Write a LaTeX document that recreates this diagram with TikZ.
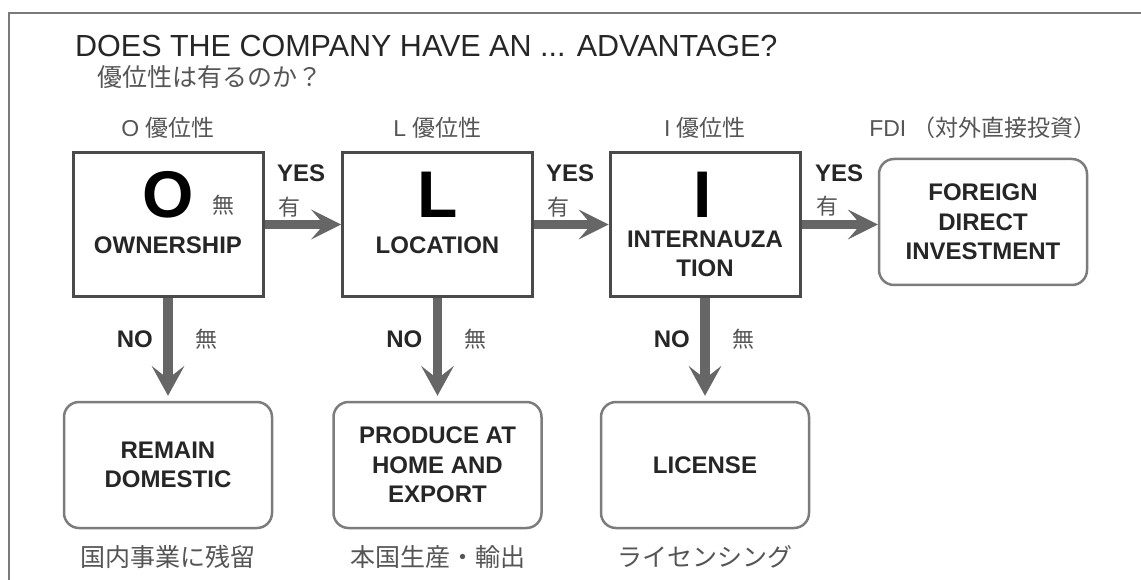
\documentclass[tikz,border=0pt]{standalone}
\usepackage{fontspec}
\setmainfont{Liberation Sans}
\newfontfamily\jp{Noto Sans CJK JP}
\usetikzlibrary{arrows.meta}
\definecolor{framegray}{HTML}{7A7A7A}
\definecolor{boxline}{HTML}{4A4A4A}
\definecolor{rline}{HTML}{7C7C7C}
\definecolor{arrowgray}{HTML}{666666}
\definecolor{textdark}{HTML}{262626}
\definecolor{jpgray}{HTML}{555555}
\begin{document}
\begin{tikzpicture}[x=1pt,y=-1pt,
  framestyle/.style={draw=framegray, line width=2pt},
  titletxt/.style={inner sep=0pt, text=textdark, font=\fontsize{30.5}{35}\selectfont},
  jptxt/.style={inner sep=0pt, text=jpgray, font=\jp\fontsize{25}{30}\selectfont},
  hdr/.style={inner sep=0pt, text=jpgray, font=\fontsize{23}{28}\selectfont},
  sqbox/.style={draw=boxline, line width=3pt, fill=white, minimum width=190pt, minimum height=143pt, inner sep=0pt},
  rbox/.style={draw=rline, line width=2.5pt, fill=white, rounded corners=15pt, minimum width=208pt, minimum height=126pt, inner sep=0pt, align=center, text=textdark, font=\bfseries\fontsize{24}{29.5}\selectfont},
  bigletter/.style={inner sep=0pt, text=black, font=\bfseries\fontsize{66}{76}\selectfont},
  boxtxt/.style={inner sep=0pt, align=center, text=textdark, font=\bfseries\fontsize{24}{29}\selectfont},
  yn/.style={inner sep=0pt, text=textdark, font=\bfseries\fontsize{24}{28}\selectfont},
  jpsmall/.style={inner sep=0pt, text=jpgray, font=\jp\fontsize{22}{26}\selectfont},
  harrow/.style={draw=arrowgray, line width=8.5pt, -{Stealth[length=30pt,width=30pt,inset=13pt,line width=0pt]}},
  varrow/.style={draw=arrowgray, line width=9.5pt, shorten >=5pt, -{Stealth[length=30pt,width=33pt,inset=13pt,line width=0pt]}}
]
\useasboundingbox (0,0) rectangle (1141,580);
% outer frame (top and left)
\coordinate (fr) at (1141,13);
\coordinate (fc) at (9,13);
\coordinate (fb) at (9,580);
\draw[framestyle] (fr) -- (fc) -- (fb);

% titles
\node[titletxt, anchor=base west] (title) at (75,57) {DOES THE COMPANY HAVE AN ... ADVANTAGE?};
\node[jptxt, anchor=west] (subtitle) at (97,77) {優位性は有るのか？};

% column headers
\node[hdr] (hO) at (168,128) {O {\jp 優位性}};
\node[hdr] (hL) at (437.5,128) {L {\jp 優位性}};
\node[hdr] (hI) at (705,128) {I {\jp 優位性}};
\node[hdr] (hF) at (983,128) {FDI {\jp （対外直接投資）}};

% main boxes
\node[sqbox] (O) at (168,224.5) {};
\node[sqbox] (L) at (437.5,224.5) {};
\node[sqbox] (I) at (705,224.5) {};
\node[rbox] (F) at (983,222) {FOREIGN\\DIRECT\\INVESTMENT};

% box contents
\node[bigletter] (Ol) at (168,195) {O};
\node[jpsmall] (Onashi) at (223,205) {無};
\node[boxtxt] (Ot) at (168,245) {OWNERSHIP};
\node[bigletter] (Ll) at (438,195) {L};
\node[boxtxt] (Lt) at (437.5,245) {LOCATION};
\node[bigletter] (Il) at (703,195) {I};
\node[boxtxt] (It) at (705,253.5) {INTERNAUZA\\TION};

% outcome boxes
\node[rbox] (RD) at (168,465) {REMAIN\\DOMESTIC};
\node[rbox] (PH) at (437.5,465) {PRODUCE AT\\HOME AND\\EXPORT};
\node[rbox] (LC) at (705,465) {LICENSE};

% outcome captions
\node[jptxt] (cRD) at (168,557) {国内事業に残留};
\node[jptxt] (cPH) at (437.5,557) {本国生産・輸出};
\node[jptxt] (cLC) at (705,557) {ライセンシング};

% connectors
\draw[harrow] (O.east) -- (L.west);
\draw[harrow] (L.east) -- (I.west);
\draw[harrow] (I.east) -- (I.east -| F.west);
\draw[varrow] (O.south) -- (RD.north);
\draw[varrow] (L.south) -- (PH.north);
\draw[varrow] (I.south) -- (LC.north);

% YES labels
\node[yn, anchor=west] (y1) at (277,173) {YES};
\node[jpsmall, anchor=west] (a1) at (278,207) {有};
\node[yn, anchor=west] (y2) at (546,173) {YES};
\node[jpsmall, anchor=west] (a2) at (547,207) {有};
\node[yn, anchor=west] (y3) at (815,173) {YES};
\node[jpsmall, anchor=west] (a3) at (816,206) {有};

% NO labels
\node[yn, anchor=east] (n1) at (153,339) {NO};
\node[jpsmall, anchor=west] (m1) at (195,339) {無};
\node[yn, anchor=east] (n2) at (422.5,339) {NO};
\node[jpsmall, anchor=west] (m2) at (464.5,339) {無};
\node[yn, anchor=east] (n3) at (690,339) {NO};
\node[jpsmall, anchor=west] (m3) at (732,339) {無};
\end{tikzpicture}
\end{document}
